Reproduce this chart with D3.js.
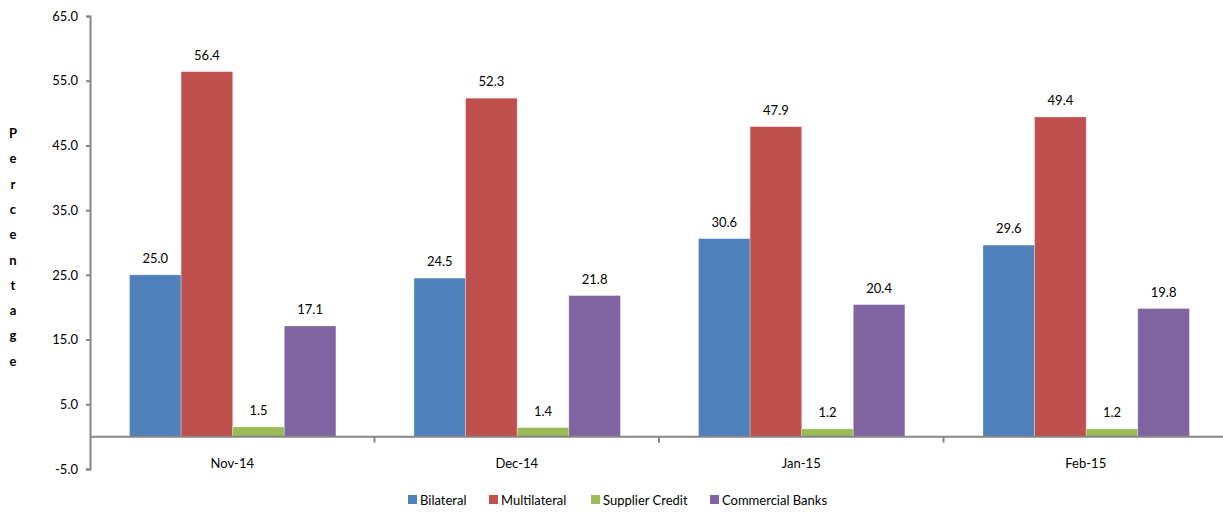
<!DOCTYPE html>
<html>
<head>
<meta charset="utf-8">
<script src="https://cdn.jsdelivr.net/npm/d3@7"></script>
<style>
  html, body { margin: 0; padding: 0; background: #fff; }
  svg { display: block; font-family: Lato, "Liberation Sans", sans-serif; }
</style>
</head>
<body>
<svg id="chart" width="1223" height="513"></svg>
<script>
// Monthly composition of external debt by creditor type (%)
const categories = ["Nov-14", "Dec-14", "Jan-15", "Feb-15"];
const seriesNames = ["Bilateral", "Multilateral", "Supplier Credit", "Commercial Banks"];
const bilateral = [25.0, 24.5, 30.6, 29.6];
const multilateral = [56.4, 52.3, 47.9, 49.4];
const supplierCredit = [1.5, 1.4, 1.2, 1.2];
const commercialBanks = [17.1, 21.8, 20.4, 19.8];
const yTicks = [-5, 5, 15, 25, 35, 45, 55, 65];
const colors = ["#4F81BD", "#C0504D", "#9BBB59", "#8064A2"];

const seriesValues = [bilateral, multilateral, supplierCredit, commercialBanks];

const svg = d3.select("#chart");
const plotLeft = 90, plotRight = 1228, plotTop = 16, plotBottom = 469;

const y = d3.scaleLinear().domain([-5, 65]).range([plotBottom, plotTop]);
const x0 = d3.scaleBand().domain(categories).range([plotLeft, plotRight]).paddingInner(0).paddingOuter(0);
const x1 = d3.scaleBand().domain(seriesNames)
  .range([39.5, 39.5 + 206.4]).paddingInner(0);

const axisColor = "#868686";

// Bars
const groups = svg.append("g").selectAll("g")
  .data(categories)
  .join("g")
  .attr("transform", d => `translate(${x0(d)},0)`);

groups.selectAll("rect")
  .data((c, i) => seriesNames.map((s, k) => ({ s, k, v: seriesValues[k][i] })))
  .join("rect")
  .attr("x", d => x1(d.s))
  .attr("width", x1.bandwidth())
  .attr("y", d => y(Math.max(0, d.v)))
  .attr("height", d => Math.abs(y(d.v) - y(0)))
  .attr("fill", d => colors[d.k])
  .attr("stroke", "#ffffff")
  .attr("stroke-opacity", 0.35)
  .attr("stroke-width", 0.8);

// Value labels
groups.selectAll("text.val")
  .data((c, i) => seriesNames.map((s, k) => ({ s, k, v: seriesValues[k][i] })))
  .join("text")
  .attr("class", "val")
  .attr("x", d => x1(d.s) + x1.bandwidth() / 2)
  .attr("y", d => y(d.v) - 12)
  .attr("text-anchor", "middle")
  .attr("font-size", 13)
  .attr("fill", "#000")
  .text(d => d.v.toFixed(1));

// Y axis (plain hyphen for negatives)
const yAxis = d3.axisLeft(y).tickValues(yTicks).tickFormat(d => d.toFixed(1)).tickSize(4).tickPadding(8);
const gy = svg.append("g").attr("transform", `translate(${plotLeft},0)`).call(yAxis);
gy.select(".domain").attr("stroke", axisColor).attr("stroke-width", 2);
gy.selectAll(".tick line").attr("stroke", axisColor).attr("stroke-width", 2);
gy.selectAll(".tick text").attr("font-size", 13).attr("fill", "#000").attr("font-family", "Lato, 'Liberation Sans', sans-serif");

// Category axis along zero
const gx = svg.append("g").attr("transform", `translate(0,${y(0)})`);
gx.append("line").attr("x1", plotLeft).attr("x2", 1223).attr("stroke", axisColor).attr("stroke-width", 2);
gx.selectAll("line.sep")
  .data(categories)
  .join("line")
  .attr("class", "sep")
  .attr("x1", d => x0(d) + x0.bandwidth())
  .attr("x2", d => x0(d) + x0.bandwidth())
  .attr("y1", 0).attr("y2", 6)
  .attr("stroke", axisColor).attr("stroke-width", 2);

svg.append("g").selectAll("text")
  .data(categories)
  .join("text")
  .attr("x", d => x0(d) + x0.bandwidth() / 2)
  .attr("y", 468)
  .attr("text-anchor", "middle")
  .attr("font-size", 13)
  .text(d => d);

// Y title, stacked letters
const title = "Percentage".split("");
svg.append("g").selectAll("text")
  .data(title)
  .join("text")
  .attr("x", 13)
  .attr("y", (d, i) => 138 + i * 25.3)
  .attr("text-anchor", "middle")
  .attr("font-size", 13)
  .attr("font-weight", "bold")
  .text(d => d);

// Legend
const legendX = [408, 489, 591, 710];
const legend = svg.append("g").selectAll("g")
  .data(seriesNames)
  .join("g")
  .attr("transform", (d, i) => `translate(${legendX[i]},495)`);
legend.append("rect").attr("width", 9).attr("height", 9).attr("fill", (d, i) => colors[i]);
legend.append("text").attr("x", 12).attr("y", 9.5).attr("font-size", 13).text(d => d);
</script>
</body>
</html>
